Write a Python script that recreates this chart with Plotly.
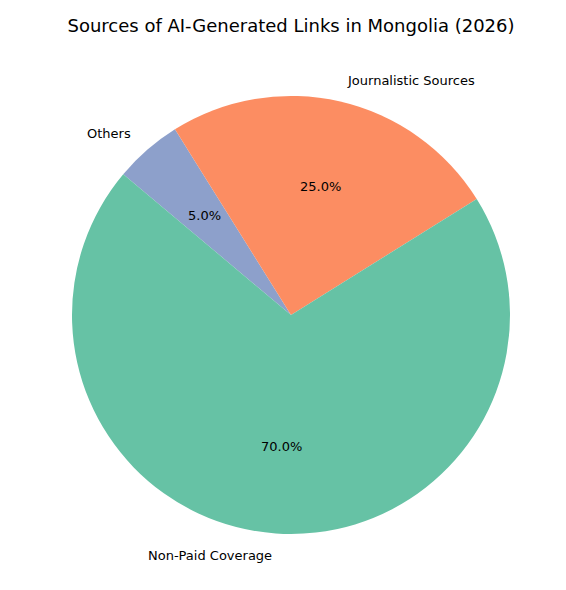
import math
import plotly.graph_objects as go

labels = ['Non-Paid Coverage', 'Journalistic Sources', 'Others']
values = [70, 25, 5]
colors = ['#66c2a5', '#fc8d62', '#8da0cb']
START_ANGLE = 140  # degrees, counterclockwise from 3 o'clock

# drawn clockwise in reverse order so the layout matches a ccw pie from START_ANGLE
fig = go.Figure()
fig.add_trace(go.Pie(
    labels=labels[::-1],
    values=values[::-1],
    marker=dict(colors=colors[::-1]),
    sort=False,
    direction='clockwise',
    rotation=90 - START_ANGLE,
    textinfo='none',
    hoverinfo='label+percent',
    showlegend=False,
    domain=dict(x=[0, 1], y=[0, 1]),
))

# labels outside at 1.1r, percentages at 0.6r (matplotlib style)
total = sum(values)
angle = START_ANGLE
annotations = []
for lab, v in zip(labels, values):
    span = 360 * v / total
    mid = math.radians(angle + span / 2)
    angle += span
    cx, cy = math.cos(mid), math.sin(mid)
    annotations.append(dict(
        x=0.5 + 0.5 * 1.1 * cx, y=0.5 + 0.5 * 1.1 * cy,
        xref='paper', yref='paper', text=lab, showarrow=False,
        xanchor='left' if cx > 0 else 'right', yanchor='middle',
        font=dict(size=13, color='black'),
    ))
    annotations.append(dict(
        x=0.5 + 0.5 * 0.6 * cx, y=0.5 + 0.5 * 0.6 * cy,
        xref='paper', yref='paper', text=f'{100 * v / total:.1f}%',
        showarrow=False, xanchor='center', yanchor='middle',
        font=dict(size=13, color='black'),
    ))

fig.update_layout(
    width=566, height=590,
    margin=dict(l=64, r=64, t=88, b=64),
    paper_bgcolor='white',
    font=dict(family='DejaVu Sans'),
    title=dict(text='Sources of AI-Generated Links in Mongolia (2026)',
               x=0.5, xanchor='center', y=0.97, yanchor='middle',
               font=dict(size=18, color='black')),
    annotations=annotations,
)

fig.write_html('out.html')
